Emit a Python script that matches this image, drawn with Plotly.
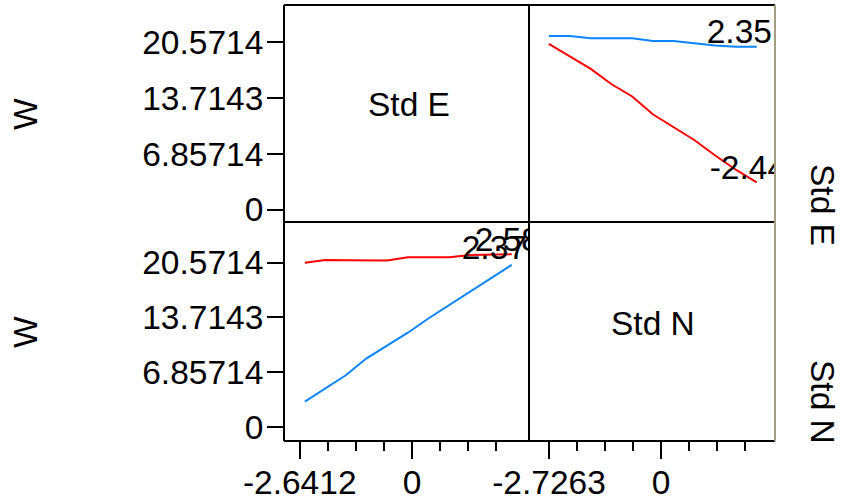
import plotly.graph_objects as go

# ---------------- data ----------------
# Top-right cell: W vs Std N, one line per Std E level
std_n_vals = [-2.73, -2.22, -1.71, -1.21, -0.70, -0.20, 0.31, 0.81, 1.32, 1.83, 2.33]
w_std_e_hi = [21.37, 21.37, 21.09, 21.09, 21.09, 20.76, 20.76, 20.47, 20.20, 20.05, 20.05]
w_std_e_lo = [20.39, 18.88, 17.32, 15.46, 13.92, 11.73, 10.16, 8.56, 6.65, 4.87, 3.35]
tr_labels = ["2.35", "-2.44"]

# Bottom-left cell: W vs Std E, one line per Std N level
std_e_vals = [-2.52, -2.04, -1.55, -1.07, -0.58, -0.10, 0.39, 0.88, 1.36, 1.85, 2.34]
w_std_n_a = [20.55, 20.89, 20.86, 20.83, 20.81, 21.22, 21.22, 21.22, 21.51, 21.60, 21.60]
w_std_n_b = [3.20, 4.87, 6.53, 8.61, 10.19, 11.81, 13.61, 15.27, 16.99, 18.60, 20.28]
bl_labels = ["2.58", "2.37"]

factor_names = ["Std E", "Std N"]
response_name = "W"
y_tick_vals = [0, 6.85714, 13.7143, 20.5714]
y_tick_text = ["0", "6.85714", "13.7143", "20.5714"]
x_left_ticks = [-2.6412, 0]
x_left_text = ["-2.6412", "0"]
x_right_ticks = [-2.7263, 0]
x_right_text = ["-2.7263", "0"]

# ---------------- style ----------------
FONT = "Liberation Sans, Arial, sans-serif"
FS = 33.5
BLUE = "#0a84ff"
RED = "#ff0000"
OLIVE = "#a39e80"
W, H = 841, 501
ML, MR, MT, MB = 284, 66, 5, 60
PW, PH = W - ML - MR, H - MT - MB
XSPLIT = (529 - ML) / PW
YSPLIT = (H - MB - 222) / PH

x_left_range = [-3.01, 2.746]
x_right_range = [-3.213, 2.775]
y_top_range = [-1.54, 25.19]
y_bot_range = [-1.71, 25.63]


def ppu(rng, frac, total):
    return frac * total / (rng[1] - rng[0])


ppu_xl = ppu(x_left_range, XSPLIT, PW)
ppu_xr = ppu(x_right_range, 1 - XSPLIT, PW)
ppu_yt = ppu(y_top_range, 1 - YSPLIT, PH)
ppu_yb = ppu(y_bot_range, YSPLIT, PH)

fig = go.Figure()

# top-right lines
fig.add_trace(go.Scatter(x=std_n_vals, y=w_std_e_hi, mode="lines",
                         line=dict(color=BLUE, width=2), xaxis="x2", yaxis="y"))
fig.add_trace(go.Scatter(x=std_n_vals, y=w_std_e_lo, mode="lines",
                         line=dict(color=RED, width=2), xaxis="x2", yaxis="y"))
# bottom-left lines
fig.add_trace(go.Scatter(x=std_e_vals, y=w_std_n_a, mode="lines",
                         line=dict(color=RED, width=2), xaxis="x", yaxis="y2"))
fig.add_trace(go.Scatter(x=std_e_vals, y=w_std_n_b, mode="lines",
                         line=dict(color=BLUE, width=2), xaxis="x", yaxis="y2"))

# level labels near line ends (pixel offsets converted to data units), clipped to cell
tr_offsets = [(-50, 12), (-47, 12)]
tr_ends = [(std_n_vals[-1], w_std_e_hi[-1]), (std_n_vals[-1], w_std_e_lo[-1])]
fig.add_trace(go.Scatter(
    x=[e[0] + o[0] / ppu_xr for e, o in zip(tr_ends, tr_offsets)],
    y=[e[1] + o[1] / ppu_yt for e, o in zip(tr_ends, tr_offsets)],
    text=tr_labels, mode="text", textposition="middle right",
    textfont=dict(family=FONT, size=FS, color="black"),
    cliponaxis=True, xaxis="x2", yaxis="y"))

bl_offsets = [(-37, 12), (-50, 14)]
bl_ends = [(std_e_vals[-1], w_std_n_a[-1]), (std_e_vals[-1], w_std_n_b[-1])]
fig.add_trace(go.Scatter(
    x=[e[0] + o[0] / ppu_xl for e, o in zip(bl_ends, bl_offsets)],
    y=[e[1] + o[1] / ppu_yb for e, o in zip(bl_ends, bl_offsets)],
    text=bl_labels, mode="text", textposition="middle right",
    textfont=dict(family=FONT, size=FS, color="black"),
    cliponaxis=True, xaxis="x", yaxis="y2"))

tickfont = dict(family=FONT, size=FS, color="black")
common_x = dict(showgrid=False, zeroline=False, showline=False, ticks="outside",
                ticklen=17, tickwidth=2, tickcolor="black", tickfont=tickfont,
                tickmode="array", fixedrange=True, automargin=False,
                ticklabelstandoff=-5)
common_y = dict(showgrid=False, zeroline=False, showline=False, ticks="outside",
                ticklen=16, tickwidth=2, tickcolor="black", tickfont=tickfont,
                tickmode="array", tickvals=y_tick_vals, ticktext=y_tick_text,
                fixedrange=True, automargin=False, ticklabelstandoff=-3)

step_l = abs(x_left_ticks[0]) / 4
step_r = abs(x_right_ticks[0]) / 4
minor_l = [k * step_l for k in (-3, -2, -1, 1, 2, 3)]
minor_r = [k * step_r for k in (-3, -2, -1, 1, 2, 3)]

fig.update_layout(
    width=W, height=H,
    margin=dict(l=ML, r=MR, t=MT, b=MB, pad=0, autoexpand=False),
    paper_bgcolor="white", plot_bgcolor="white",
    showlegend=False,
    font=dict(family=FONT, size=FS, color="black"),
    xaxis=dict(domain=[0, XSPLIT], range=x_left_range, anchor="y2",
               tickvals=x_left_ticks, ticktext=x_left_text,
               minor=dict(tickvals=minor_l, ticks="outside", ticklen=9,
                          tickwidth=2, tickcolor="black"),
               **common_x),
    xaxis2=dict(domain=[XSPLIT, 1], range=x_right_range, anchor="y2",
                tickvals=x_right_ticks, ticktext=x_right_text,
                minor=dict(tickvals=minor_r, ticks="outside", ticklen=9,
                           tickwidth=2, tickcolor="black"),
                **common_x),
    yaxis=dict(domain=[YSPLIT, 1], range=y_top_range, anchor="x", **common_y),
    yaxis2=dict(domain=[0, YSPLIT], range=y_bot_range, anchor="x", **common_y),
)

# frame and dividers
line_k = dict(color="black", width=2)
shapes = [
    dict(type="line", xref="paper", yref="paper", x0=0, x1=0, y0=0, y1=1, line=line_k),
    dict(type="line", xref="paper", yref="paper", x0=0, x1=1, y0=1, y1=1, line=line_k),
    dict(type="line", xref="paper", yref="paper", x0=0, x1=1, y0=0, y1=0, line=line_k),
    dict(type="line", xref="paper", yref="paper", x0=XSPLIT, x1=XSPLIT, y0=0, y1=1, line=line_k),
    dict(type="line", xref="paper", yref="paper", x0=0, x1=1, y0=YSPLIT, y1=YSPLIT, line=line_k),
    dict(type="line", xref="paper", yref="paper", x0=1, x1=1, y0=0, y1=1,
         line=dict(color=OLIVE, width=2)),
]
fig.update_layout(shapes=shapes)

def px_to_paper_x(px):
    return (px - ML) / PW

def px_to_paper_y(py):
    return (H - MB - py) / PH

annotations = [
    # diagonal cell labels
    dict(text=factor_names[0], x=px_to_paper_x(409), y=px_to_paper_y(104)),
    dict(text=factor_names[1], x=px_to_paper_x(652.5), y=px_to_paper_y(323)),
    # left response titles
    dict(text=response_name, x=px_to_paper_x(25), y=px_to_paper_y(114), textangle=-90),
    dict(text=response_name, x=px_to_paper_x(25), y=px_to_paper_y(332), textangle=-90),
    # right factor titles
    dict(text=factor_names[0], x=px_to_paper_x(823), y=px_to_paper_y(205), textangle=90),
    dict(text=factor_names[1], x=px_to_paper_x(823), y=px_to_paper_y(402), textangle=90),
]
for a in annotations:
    a.update(xref="paper", yref="paper", showarrow=False, xanchor="center",
             yanchor="middle", font=dict(family=FONT, size=FS, color="black"))
fig.update_layout(annotations=annotations)

fig.write_html("out.html")
